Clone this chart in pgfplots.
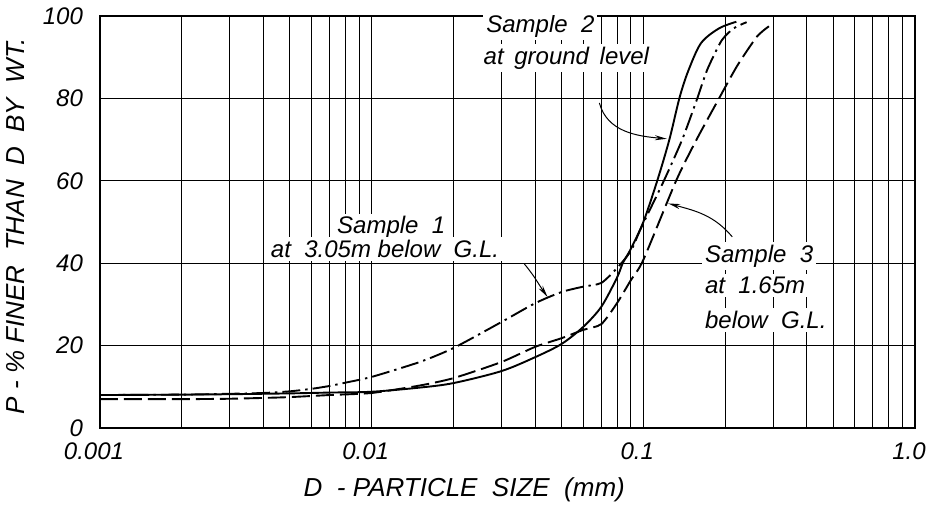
\documentclass[border=0pt]{standalone}
\usepackage{fontspec}
\setmainfont{Liberation Sans}
\usepackage{pgfplots}
\pgfplotsset{compat=1.18}
\usetikzlibrary{arrows.meta}

\begin{document}
\begin{tikzpicture}
\begin{axis}[
  scale only axis, width=407.5pt, height=206pt,
  xmode=log, xmin=0.001, xmax=1, ymin=0, ymax=100,
  xtick={0.001,0.01,0.1,1}, xticklabels={0.001,0.01,0.1,1.0},
  minor xtick={0.002,0.003,0.004,0.005,0.006,0.007,0.008,0.009,
    0.02,0.03,0.04,0.05,0.06,0.07,0.08,0.09,
    0.2,0.3,0.4,0.5,0.6,0.7,0.8,0.9},
  ytick={0,20,40,60,80,100},
  xmajorgrids, xminorgrids, ymajorgrids,
  major grid style={black,line width=0.45pt},
  minor grid style={black,line width=0.45pt},
  axis line style={line width=1pt},
  major tick length=0pt, minor tick length=0pt,
  /pgf/number format/assume math mode=true,
  tick label style={font=\fontsize{12}{14}\selectfont\itshape},
  xticklabel style={yshift=-4pt, xshift=-3pt},
  yticklabel style={xshift=-5pt},
  xlabel={D \ -\ PARTICLE \ SIZE \ (mm)},
  ylabel={P - \% FINER \ THAN \ D \ BY \ WT.},
  every axis x label/.style={at={(axis description cs:0.447,-0.150)},anchor=center},
  every axis y label/.style={at={(axis description cs:-0.104,0.49)},rotate=90,anchor=center},
  label style={font=\fontsize{13}{16}\selectfont\itshape},
]
% Sample 1, 3.05 m below G.L.
\addplot[black, line width=0.95pt, smooth, tension=0.4,
  dash pattern=on 9pt off 2.5pt on 1.2pt off 2.5pt] coordinates {
  (0.001,8.0) (0.002,8.1) (0.003,8.3) (0.004,8.5) (0.005,8.9)
  (0.006,9.5) (0.007,10.2) (0.008,11.0) (0.01,12.4) (0.015,16.0)
  (0.02,19.4) (0.03,25.7) (0.04,30.3) (0.05,33.0) (0.06,34.3)
  (0.07,35.2) (0.08,38.8) (0.09,43.0) (0.098,48.5) (0.119,60)
  (0.139,70) (0.158,80) (0.172,87) (0.194,94) (0.215,97) (0.24,98.5)};
% Sample 2, ground level
\addplot[black, line width=0.95pt, smooth, tension=0.5] coordinates {
  (0.001,8.0) (0.002,8.1) (0.003,8.2) (0.005,8.4) (0.007,8.6)
  (0.01,8.8) (0.015,9.8) (0.02,10.9) (0.03,13.8) (0.04,17.2)
  (0.05,20.4) (0.06,24.5) (0.07,29.4) (0.08,36.5) (0.084,40)
  (0.09,43.5) (0.1,50) (0.1125,60) (0.1247,70) (0.1357,80)
  (0.146,86.5) (0.163,93.4) (0.19,97) (0.22,98.6)};
% Sample 3, 1.65 m below G.L.
\addplot[black, line width=0.95pt, smooth, tension=0.4,
  dash pattern=on 9pt off 3pt] coordinates {
  (0.001,7.0) (0.002,7.0) (0.003,7.1) (0.004,7.3) (0.005,7.5)
  (0.007,8.0) (0.01,8.5) (0.015,10.3) (0.02,12.1) (0.03,16.0)
  (0.04,19.7) (0.05,21.8) (0.06,23.8) (0.07,25.2) (0.08,30.3)
  (0.09,35.9) (0.1,40.8) (0.132,60) (0.157,70) (0.19,80)
  (0.222,88) (0.262,95) (0.29,97.5)};

\tikzset{lab/.style={fill=white, inner sep=1.5pt, font=\fontsize{12}{14}\selectfont\itshape}}
\node[lab] at (axis cs:0.0418,97.5) {Sample \ 2};
\node[lab] at (axis cs:0.0521,89.8) {at \,ground \,level};
\node[lab] at (axis cs:0.0118,48.6) {Sample \ 1};
\node[lab] at (axis cs:0.0112,43.4) {at \ 3.05m below \ G.L.};
\node[lab, anchor=west] at (axis cs:0.164,41.7) {Sample \ 3};
\node[lab, anchor=west] at (axis cs:0.164,34.7) {at \ 1.65m};
\node[lab, anchor=west] at (axis cs:0.164,26.2) {below \ G.L.};

\draw[-{Stealth[length=6pt,width=2.5pt]}, line width=0.5pt]
  (axis cs:0.0689,78.9) to[out=-75,in=175] (axis cs:0.122,70.2);
\draw[-{Stealth[length=6pt,width=2.5pt]}, line width=0.5pt]
  (axis cs:0.0365,39.8) to[out=-50,in=125] (axis cs:0.0444,31.8);
\draw[-{Stealth[length=6pt,width=2.5pt]}, line width=0.5pt]
  (axis cs:0.2125,46.4) to[out=130,in=-15] (axis cs:0.1235,54.5);
\end{axis}
\pgfresetboundingbox
\path (current axis.south west) ++(-50pt,-40pt) rectangle ([shift={(8pt,8pt)}]current axis.north east);
\end{tikzpicture}
\end{document}
